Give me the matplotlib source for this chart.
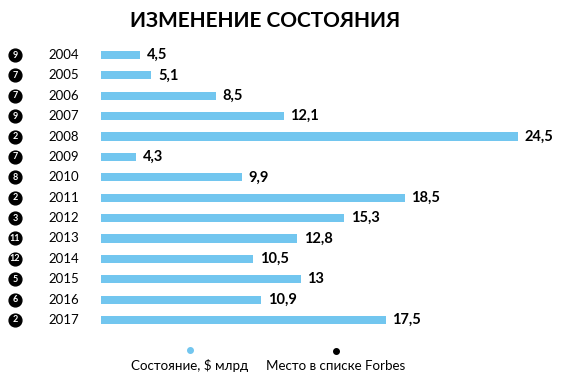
import matplotlib
matplotlib.use('Agg')
import matplotlib.pyplot as plt
from matplotlib.transforms import blended_transform_factory

years = [2004, 2005, 2006, 2007, 2008, 2009, 2010, 2011, 2012, 2013, 2014, 2015, 2016, 2017]
wealth = [4.5, 5.1, 8.5, 12.1, 24.5, 4.3, 9.9, 18.5, 15.3, 12.8, 10.5, 13, 10.9, 17.5]
forbes_rank = [9, 7, 7, 9, 2, 7, 8, 2, 3, 11, 12, 5, 6, 2]

plt.rcParams['font.family'] = ['Lato', 'DejaVu Sans']
blue = '#72c6ef'

fig = plt.figure(figsize=(5.72, 3.78), dpi=100)
W, H = 572, 378
ax = fig.add_axes([101 / W, 0, 471 / W, 1])
ax.set_xlim(2.44, 2.44 + 471 / 18.9)
step = (320 - 55) / 13
ax.set_ylim((H - 55) / step, -55 / step)
ax.axis('off')

pos = list(range(len(years)))
ax.barh(pos, wealth, height=0.4, color=blue)

for i, v in enumerate(wealth):
    label = ('%g' % v).replace('.', ',')
    ax.text(v + 0.36, i, label, va='center', ha='left', fontsize=10.5, fontweight='bold')

tr = blended_transform_factory(fig.transFigure, ax.transData)
ax.scatter([15 / W] * len(pos), pos, s=85, color='black', transform=tr, clip_on=False)
for i in pos:
    ax.text(15 / W, i, str(forbes_rank[i]), transform=tr, ha='center', va='center',
            color='white', fontsize=6.5, fontweight='bold')
    ax.text(48 / W, i, str(years[i]), transform=tr, ha='left', va='center', fontsize=9.5)

fig.text(265 / W, 1 - 21 / H, 'ИЗМЕНЕНИЕ СОСТОЯНИЯ', ha='center', va='center',
         fontsize=15, fontweight='bold')

# legend
fig.add_artist(plt.Line2D([190 / W], [1 - 350 / H], marker='o', color=blue, markersize=4, linestyle=''))
fig.add_artist(plt.Line2D([336 / W], [1 - 351 / H], marker='o', color='black', markersize=4, linestyle=''))
fig.text(190 / W, 1 - 365 / H, 'Состояние, $ млрд', ha='center', va='center', fontsize=9.6)
fig.text(336 / W, 1 - 366 / H, 'Место в списке Forbes', ha='center', va='center', fontsize=9.6)

fig.savefig('out.png', dpi=100)
